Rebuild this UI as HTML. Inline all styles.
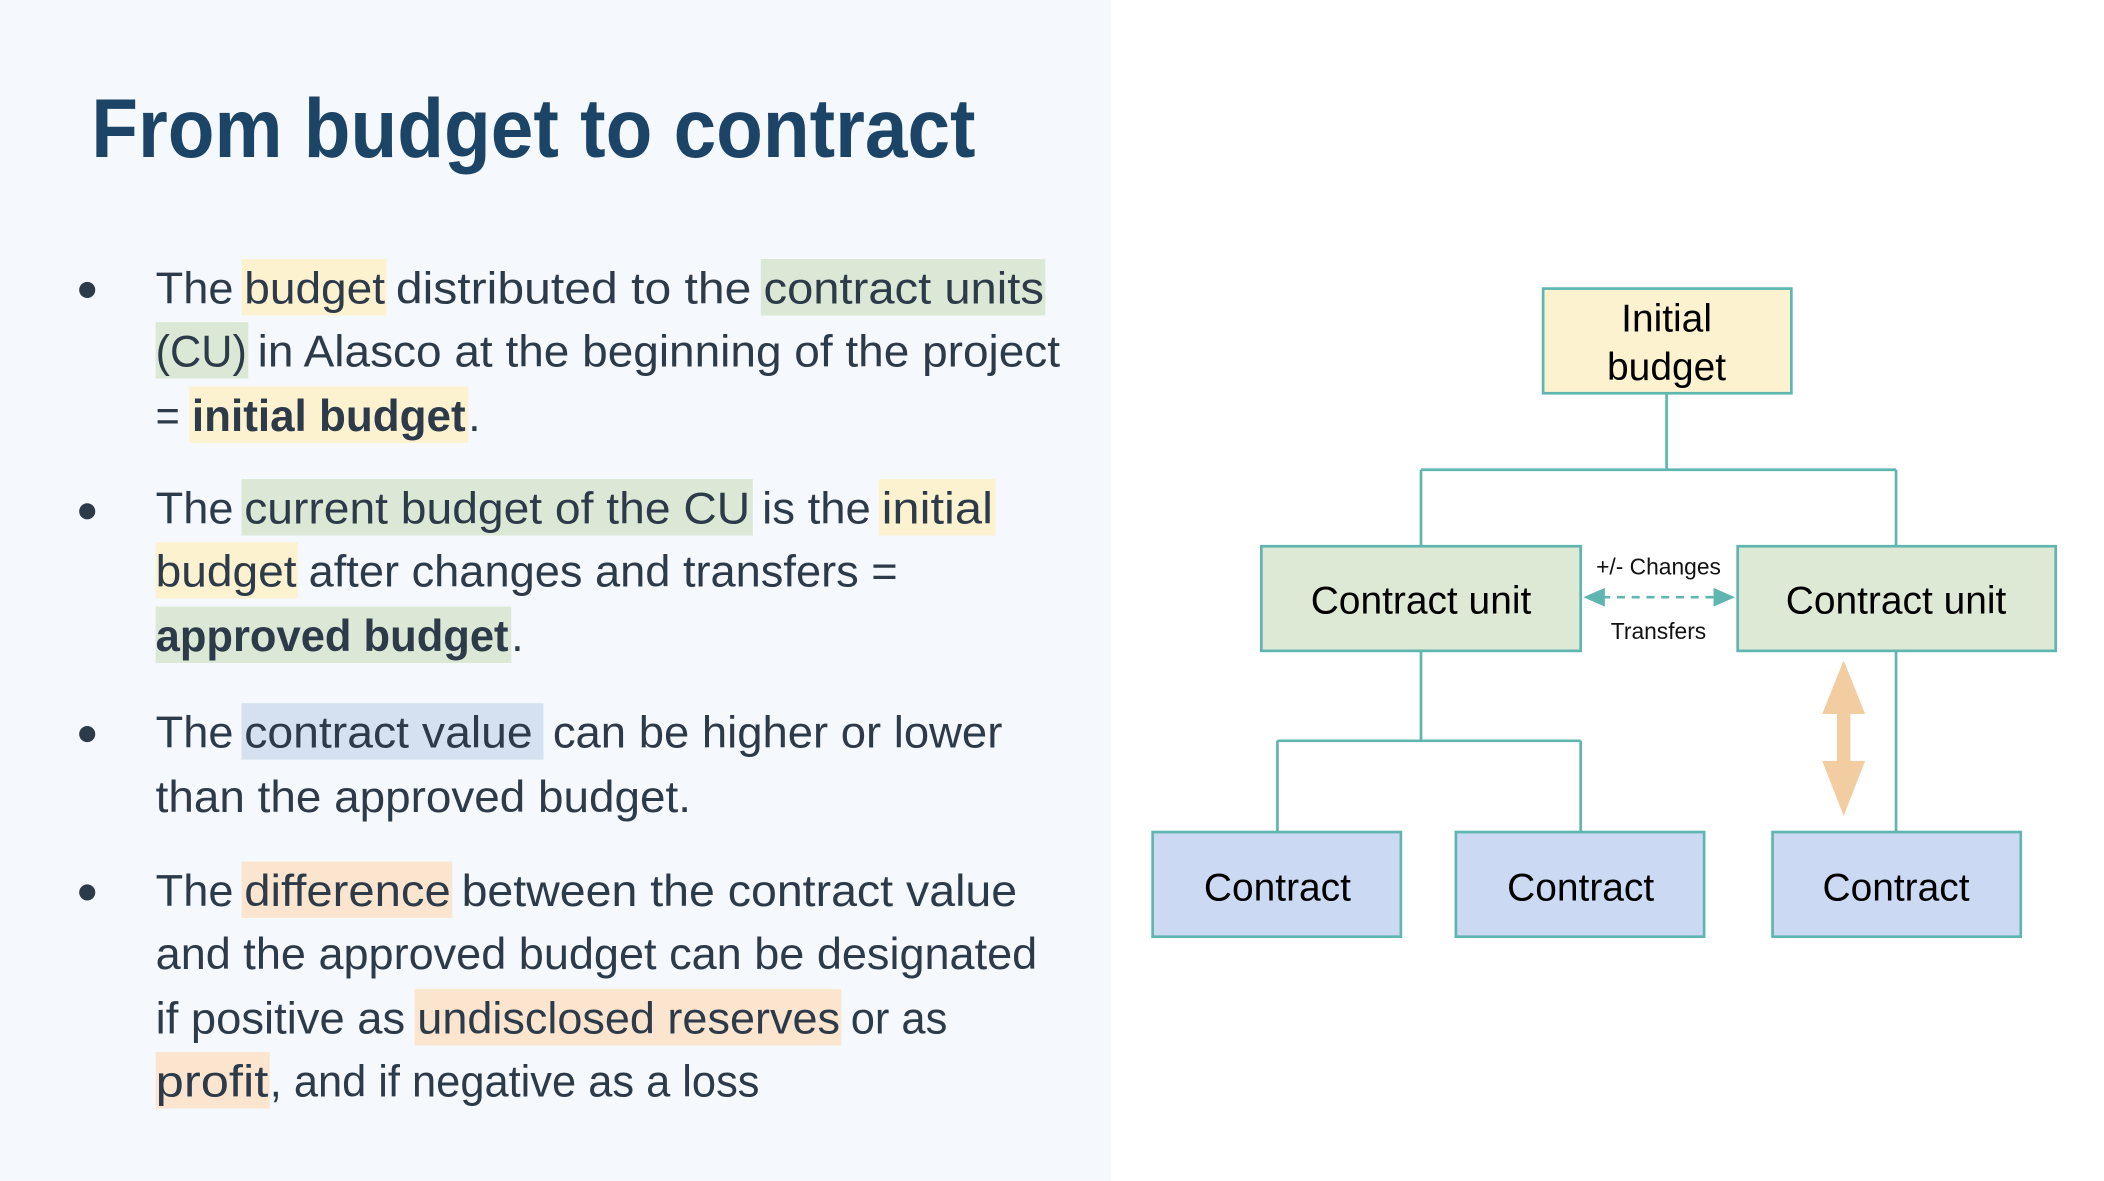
<!DOCTYPE html>
<html><head><meta charset="utf-8"><style>html,body{margin:0;padding:0;background:#fff}svg{display:block}</style></head>
<body>
<svg width="2104" height="1181" viewBox="0 0 1568 880" xmlns="http://www.w3.org/2000/svg">
<rect x="0" y="0" width="1568" height="880" fill="#fff"/>
<rect x="0" y="0" width="828" height="880" fill="#f5f8fc"/>
<text x="68" y="117" font-family="Liberation Sans, sans-serif" font-weight="bold" font-size="62" fill="#1c4466" textLength="659" lengthAdjust="spacingAndGlyphs">From budget to contract</text>
<g fill="#2d3a4a">
<circle cx="65" cy="216" r="6"/><circle cx="65" cy="381" r="6"/><circle cx="65" cy="547" r="6"/><circle cx="65" cy="665" r="6"/>
</g>
<!-- highlights -->
<g>
<rect x="180" y="193" width="108" height="42" fill="#fdf2d0"/>
<rect x="567" y="193" width="212" height="42" fill="#dbe8d5"/>
<rect x="116" y="240" width="69" height="42" fill="#dbe8d5"/>
<rect x="141" y="288" width="208" height="42" fill="#fdf2d0"/>
<rect x="180" y="357" width="381" height="42" fill="#dbe8d5"/>
<rect x="655" y="357" width="87" height="42" fill="#fdf2d0"/>
<rect x="116" y="404" width="106" height="42" fill="#fdf2d0"/>
<rect x="116" y="452" width="265" height="42" fill="#dbe8d5"/>
<rect x="180" y="524" width="225" height="42" fill="#d5e0f0"/>
<rect x="180" y="642" width="157" height="42" fill="#fbe5cf"/>
<rect x="309" y="737" width="318" height="42" fill="#fbe5cf"/>
<rect x="116" y="784" width="85" height="42" fill="#fbe5cf"/>
</g>
<g font-family="Liberation Sans, sans-serif" font-size="33" fill="#2d3a4a" lengthAdjust="spacingAndGlyphs">
<text x="116" y="226" textLength="58" lengthAdjust="spacingAndGlyphs">The</text>
<text x="182" y="226" textLength="105" lengthAdjust="spacingAndGlyphs">budget</text>
<text x="295" y="226" textLength="265" lengthAdjust="spacingAndGlyphs">distributed to the</text>
<text x="569" y="226" textLength="209" lengthAdjust="spacingAndGlyphs">contract units</text>
<text x="116" y="273" textLength="68" lengthAdjust="spacingAndGlyphs">(CU)</text>
<text x="192" y="273" textLength="598" lengthAdjust="spacingAndGlyphs">in Alasco at the beginning of the project</text>
<text x="116" y="321" textLength="18" lengthAdjust="spacingAndGlyphs">=</text>
<text x="143" y="321" font-weight="bold" textLength="204" lengthAdjust="spacingAndGlyphs">initial budget</text>
<text x="349" y="321">.</text>
<text x="116" y="390" textLength="58" lengthAdjust="spacingAndGlyphs">The</text>
<text x="182" y="390" textLength="377" lengthAdjust="spacingAndGlyphs">current budget of the CU</text>
<text x="568" y="390" textLength="81" lengthAdjust="spacingAndGlyphs">is the</text>
<text x="657" y="390" textLength="83" lengthAdjust="spacingAndGlyphs">initial</text>
<text x="116" y="437" textLength="105" lengthAdjust="spacingAndGlyphs">budget</text>
<text x="230" y="437" textLength="439" lengthAdjust="spacingAndGlyphs">after changes and transfers =</text>
<text x="116" y="485" font-weight="bold" textLength="263" lengthAdjust="spacingAndGlyphs">approved budget</text>
<text x="381" y="485">.</text>
<text x="116" y="557" textLength="58" lengthAdjust="spacingAndGlyphs">The</text>
<text x="182" y="557" textLength="215" lengthAdjust="spacingAndGlyphs">contract value</text>
<text x="412" y="557" textLength="335" lengthAdjust="spacingAndGlyphs">can be higher or lower</text>
<text x="116" y="605" textLength="399" lengthAdjust="spacingAndGlyphs">than the approved budget.</text>
<text x="116" y="675" textLength="58" lengthAdjust="spacingAndGlyphs">The</text>
<text x="182" y="675" textLength="154" lengthAdjust="spacingAndGlyphs">difference</text>
<text x="344" y="675" textLength="414" lengthAdjust="spacingAndGlyphs">between the contract value</text>
<text x="116" y="722" textLength="657" lengthAdjust="spacingAndGlyphs">and the approved budget can be designated</text>
<text x="116" y="770" textLength="186" lengthAdjust="spacingAndGlyphs">if positive as</text>
<text x="311" y="770" textLength="315" lengthAdjust="spacingAndGlyphs">undisclosed reserves</text>
<text x="634" y="770" textLength="72" lengthAdjust="spacingAndGlyphs">or as</text>
<text x="116" y="817" textLength="84" lengthAdjust="spacingAndGlyphs">profit</text>
<text x="201" y="817" textLength="365" lengthAdjust="spacingAndGlyphs">, and if negative as a loss</text>
</g>
<!-- diagram connectors -->
<g stroke="#5fb5b0" stroke-width="2" fill="none">
<path d="M1242 293V350M1059 350H1413M1059 350V407M1413 350V407"/>
<path d="M1059 485V552M952 552H1178M952 552V620M1178 552V620"/>
<path d="M1413 485V620"/>
<path d="M1194 445H1280" stroke-dasharray="6 5"/>
</g>
<g fill="#5fb5b0">
<polygon points="1180,445 1196,438 1196,452"/>
<polygon points="1293,445 1277,438 1277,452"/>
</g>
<!-- orange double arrow -->
<polygon fill="#f2cda2" points="1374,492 1390,532 1379,532 1379,567 1390,567 1374,608 1358,567 1369,567 1369,532 1358,532"/>
<!-- boxes -->
<g stroke="#5fb5b0" stroke-width="2">
<rect x="1150" y="215" width="185" height="78" fill="#fdf2d0"/>
<rect x="940" y="407" width="238" height="78" fill="#dde8d5"/>
<rect x="1295" y="407" width="237" height="78" fill="#dde8d5"/>
<rect x="859" y="620" width="185" height="78" fill="#ccd9f2"/>
<rect x="1085" y="620" width="185" height="78" fill="#ccd9f2"/>
<rect x="1321" y="620" width="185" height="78" fill="#ccd9f2"/>
</g>
<g font-family="Liberation Sans, sans-serif" font-size="29" fill="#000" text-anchor="middle">
<text x="1242" y="247">Initial</text>
<text x="1242" y="283">budget</text>
<text x="1059" y="457">Contract unit</text>
<text x="1413" y="457">Contract unit</text>
<text x="952" y="671">Contract</text>
<text x="1178" y="671">Contract</text>
<text x="1413" y="671">Contract</text>
</g>
<g font-family="Liberation Sans, sans-serif" font-size="17" fill="#111" text-anchor="middle">
<text x="1236" y="428">+/- Changes</text>
<text x="1236" y="476">Transfers</text>
</g>
</svg>
</body></html>
